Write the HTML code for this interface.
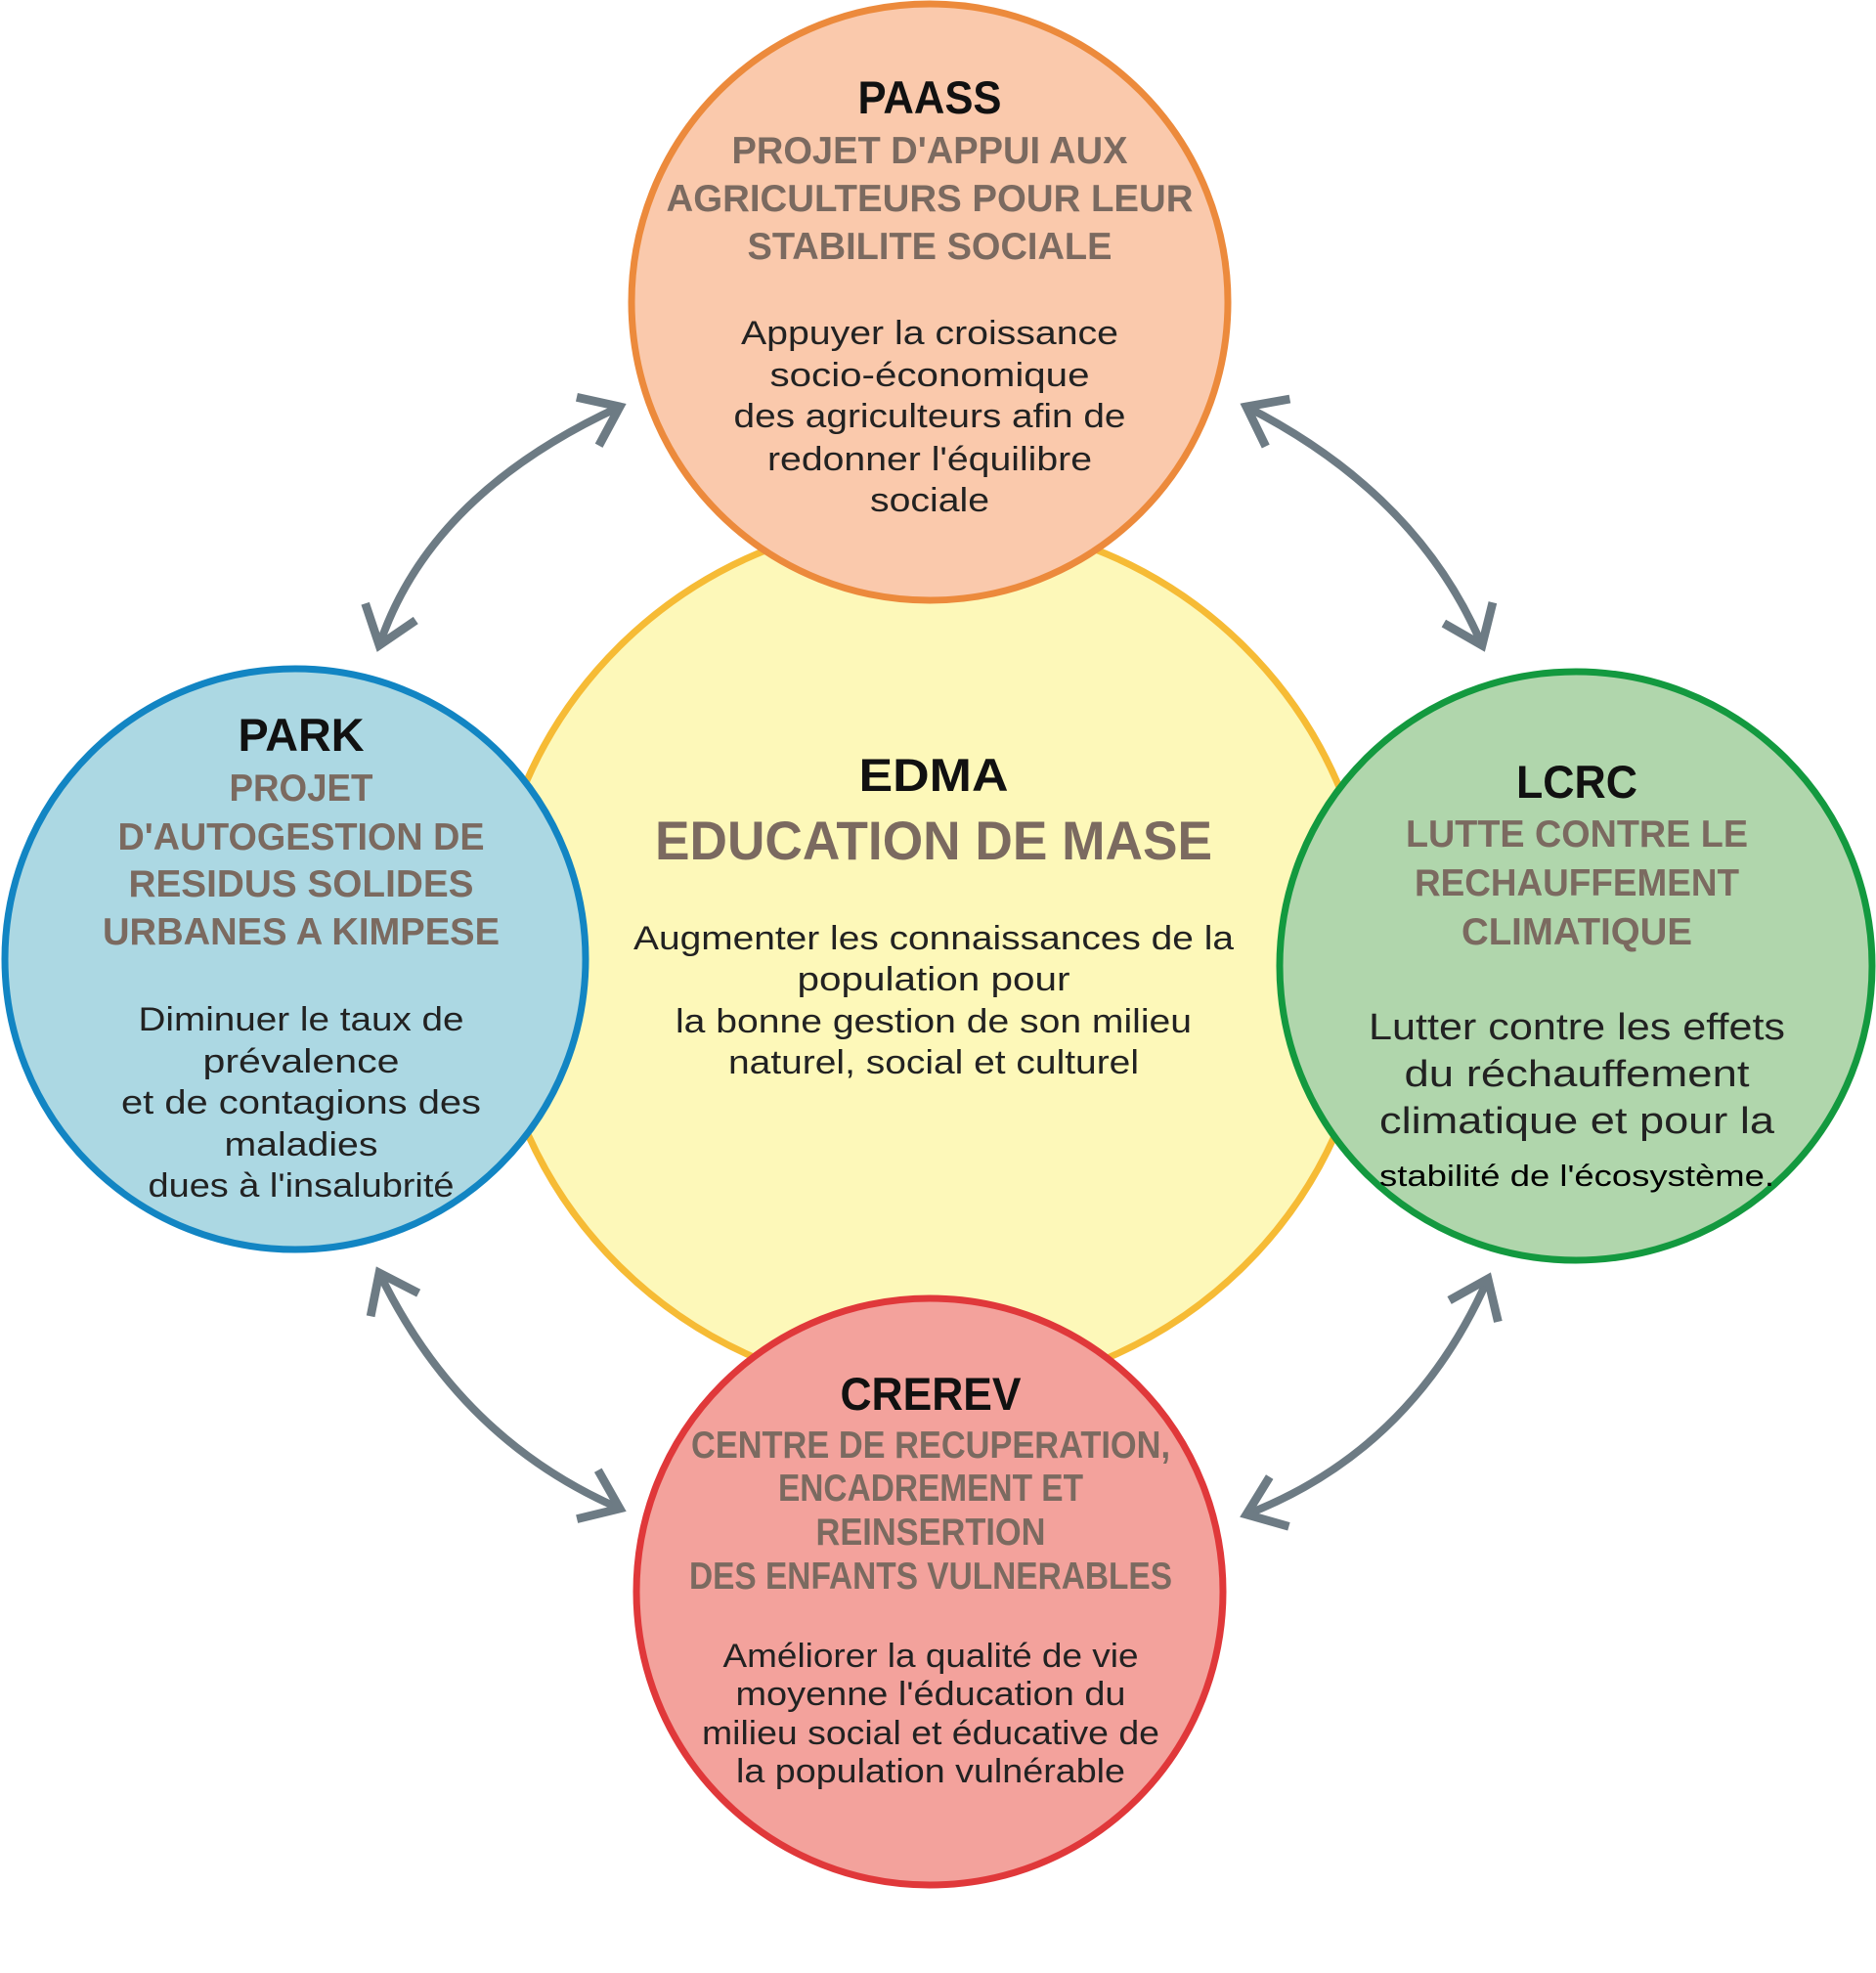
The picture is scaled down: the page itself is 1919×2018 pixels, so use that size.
<!DOCTYPE html>
<html><head><meta charset="utf-8"><style>
html,body{margin:0;padding:0;background:#fff;}
svg{display:block;}
.t{font-family:"Liberation Sans",sans-serif;font-weight:bold;fill:#111;font-size:47px;}
.s{font-family:"Liberation Sans",sans-serif;font-weight:bold;fill:#7b6a60;font-size:39px;}
.b{font-family:"Liberation Sans",sans-serif;fill:#222;font-size:34px;}
</style></head><body>
<svg width="1919" height="2018" viewBox="0 0 1919 2018" xmlns="http://www.w3.org/2000/svg">
<defs>
<marker id="a" markerWidth="8" markerHeight="8" refX="5" refY="4" orient="auto-start-reverse" markerUnits="strokeWidth">
<path d="M0.5,0.6 L5,4 L0.5,7.4" fill="none" stroke="#6d7b84" stroke-width="1.1"/>
</marker>
</defs>
<g fill="none" stroke="#6d7b84" stroke-width="8" marker-start="url(#a)" marker-end="url(#a)">
<path d="M388,660 Q440,505 634,416"/>
<path d="M1275,416 Q1450,505 1516,660"/>
<path d="M388,1302 Q470,1472 634,1543"/>
<path d="M1522,1308 Q1445,1483 1275,1549"/>
</g>
<ellipse cx="953" cy="978" rx="452" ry="448" fill="#fdf8b9" stroke="#f6bb35" stroke-width="7"/>
<ellipse cx="951" cy="309" rx="305" ry="305" fill="#fac9ac" stroke="#ec8a3c" stroke-width="7"/>
<ellipse cx="302" cy="981" rx="297" ry="297" fill="#acd8e3" stroke="#1285c3" stroke-width="7"/>
<ellipse cx="1612" cy="988" rx="303" ry="301" fill="#b0d6ac" stroke="#13993f" stroke-width="7"/>
<ellipse cx="951" cy="1628" rx="300" ry="300" fill="#f3a29c" stroke="#e0383a" stroke-width="7"/>
<g text-anchor="middle">
<text class="t" x="951" y="116" textLength="147" lengthAdjust="spacingAndGlyphs">PAASS</text>
<text class="s" x="951" y="167" textLength="405" lengthAdjust="spacingAndGlyphs">PROJET D'APPUI AUX</text>
<text class="s" x="951" y="216" textLength="539" lengthAdjust="spacingAndGlyphs">AGRICULTEURS POUR LEUR</text>
<text class="s" x="951" y="265" textLength="373" lengthAdjust="spacingAndGlyphs">STABILITE SOCIALE</text>
<text class="b" x="951" y="352" textLength="386" lengthAdjust="spacingAndGlyphs">Appuyer la croissance</text>
<text class="b" x="951" y="395" textLength="327" lengthAdjust="spacingAndGlyphs">socio-économique</text>
<text class="b" x="951" y="437" textLength="401" lengthAdjust="spacingAndGlyphs">des agriculteurs afin de</text>
<text class="b" x="951" y="481" textLength="332" lengthAdjust="spacingAndGlyphs">redonner l'équilibre</text>
<text class="b" x="951" y="523" textLength="122" lengthAdjust="spacingAndGlyphs">sociale</text>

<text class="t" x="955" y="809" textLength="153" lengthAdjust="spacingAndGlyphs">EDMA</text>
<text class="s" x="955" y="879" style="font-size:56px" textLength="570" lengthAdjust="spacingAndGlyphs">EDUCATION DE MASE</text>
<text class="b" x="955" y="971" textLength="614" lengthAdjust="spacingAndGlyphs">Augmenter les connaissances de la</text>
<text class="b" x="955" y="1013" textLength="279" lengthAdjust="spacingAndGlyphs">population pour</text>
<text class="b" x="955" y="1056" textLength="528" lengthAdjust="spacingAndGlyphs">la bonne gestion de son milieu</text>
<text class="b" x="955" y="1098" textLength="420" lengthAdjust="spacingAndGlyphs">naturel, social et culturel</text>

<text class="t" x="308" y="768" textLength="129" lengthAdjust="spacingAndGlyphs">PARK</text>
<text class="s" x="308" y="819" textLength="147" lengthAdjust="spacingAndGlyphs">PROJET</text>
<text class="s" x="308" y="869" textLength="375" lengthAdjust="spacingAndGlyphs">D'AUTOGESTION DE</text>
<text class="s" x="308" y="917" textLength="353" lengthAdjust="spacingAndGlyphs">RESIDUS SOLIDES</text>
<text class="s" x="308" y="966" textLength="406" lengthAdjust="spacingAndGlyphs">URBANES A KIMPESE</text>
<text class="b" x="308" y="1054" textLength="333" lengthAdjust="spacingAndGlyphs">Diminuer le taux de</text>
<text class="b" x="308" y="1097" textLength="201" lengthAdjust="spacingAndGlyphs">prévalence</text>
<text class="b" x="308" y="1139" textLength="368" lengthAdjust="spacingAndGlyphs">et de contagions des</text>
<text class="b" x="308" y="1182" textLength="157" lengthAdjust="spacingAndGlyphs">maladies</text>
<text class="b" x="308" y="1224" textLength="313" lengthAdjust="spacingAndGlyphs">dues à l'insalubrité</text>

<text class="t" x="1613" y="816" textLength="124" lengthAdjust="spacingAndGlyphs">LCRC</text>
<text class="s" x="1613" y="866" textLength="350" lengthAdjust="spacingAndGlyphs">LUTTE CONTRE LE</text>
<text class="s" x="1613" y="916" textLength="332" lengthAdjust="spacingAndGlyphs">RECHAUFFEMENT</text>
<text class="s" x="1613" y="966" textLength="236" lengthAdjust="spacingAndGlyphs">CLIMATIQUE</text>
<text class="b" x="1613" y="1063" style="font-size:38px" textLength="426" lengthAdjust="spacingAndGlyphs">Lutter contre les effets</text>
<text class="b" x="1613" y="1111" style="font-size:38px" textLength="353" lengthAdjust="spacingAndGlyphs">du réchauffement</text>
<text class="b" x="1613" y="1159" style="font-size:38px" textLength="404" lengthAdjust="spacingAndGlyphs">climatique et pour la</text>
<text class="b" x="1613" y="1213" style="font-size:31px;fill:#000" textLength="404" lengthAdjust="spacingAndGlyphs">stabilité de l'écosystème.</text>

<text class="t" x="952" y="1442" textLength="185" lengthAdjust="spacingAndGlyphs">CREREV</text>
<text class="s" x="952" y="1491" textLength="490" lengthAdjust="spacingAndGlyphs">CENTRE DE RECUPERATION,</text>
<text class="s" x="952" y="1535" textLength="312" lengthAdjust="spacingAndGlyphs">ENCADREMENT ET</text>
<text class="s" x="952" y="1580" textLength="235" lengthAdjust="spacingAndGlyphs">REINSERTION</text>
<text class="s" x="952" y="1625" textLength="494" lengthAdjust="spacingAndGlyphs">DES ENFANTS VULNERABLES</text>
<text class="b" x="952" y="1705" textLength="425" lengthAdjust="spacingAndGlyphs">Améliorer la qualité de vie</text>
<text class="b" x="952" y="1744" textLength="399" lengthAdjust="spacingAndGlyphs">moyenne l'éducation du</text>
<text class="b" x="952" y="1784" textLength="468" lengthAdjust="spacingAndGlyphs">milieu social et éducative de</text>
<text class="b" x="952" y="1823" textLength="398" lengthAdjust="spacingAndGlyphs">la population vulnérable</text>
</g>
</svg>
</body></html>
